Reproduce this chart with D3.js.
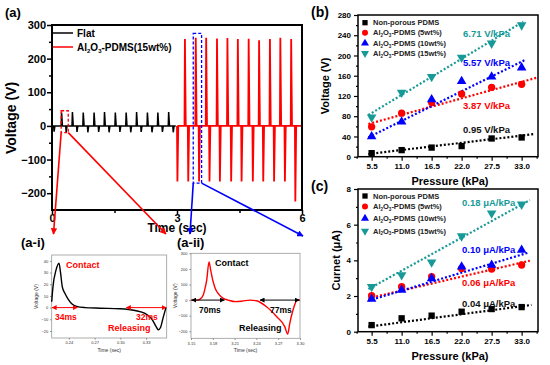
<!DOCTYPE html>
<html>
<head>
<meta charset="utf-8">
<style>
body { margin: 0; background: #fff; }
svg { font-family: "Liberation Sans", Arial, sans-serif; font-weight: bold; }
</style>
</head>
<body>
<div id="chart"></div>
<script src="https://d3js.org/d3.v7.min.js"></script>
<script>
// ---- (a) main trace: spike times (sec) and spike values (V) ----
var flatPeakTimes = [0.23, 0.49, 0.75, 1.01, 1.26, 1.52, 1.78, 2.03, 2.29, 2.54, 2.80];
var flatPeakValues = [40, 41, 40, 40, 41, 40, 40, 41, 40, 40, 41];
var flatDipTimes = [0.05, 0.34, 0.60, 0.86, 1.12, 1.37, 1.63, 1.89, 2.14, 2.40, 2.65, 2.91];
var flatDipValues = [-17, -19, -18, -19, -18, -19, -18, -19, -18, -19, -18, -19];
var poroPeakTimes = [3.19, 3.45, 3.70, 3.96, 4.21, 4.46, 4.72, 4.97, 5.23, 5.48, 5.74];
var poroPeakValues = [258, 262, 262, 260, 261, 258, 259, 255, 258, 262, 258];
var poroDipTimes = [3.01, 3.27, 3.53, 3.78, 4.03, 4.30, 4.55, 4.82, 5.07, 5.33, 5.59, 5.84];
var poroDipValues = [-165, -165, -165, -165, -165, -165, -165, -165, -165, -165, -165, -225];

// ---- (a-i) zoomed Flat trace ----
var flatZoomTime = [0.2200, 0.2215, 0.2250, 0.2285, 0.2303, 0.2323, 0.2355, 0.2393, 0.2437, 0.2490, 0.2588, 0.2763, 0.2996, 0.3171, 0.3287, 0.3369, 0.3415, 0.3442, 0.3468, 0.3497, 0.3531];
var flatZoomVolt = [5, 18, 32, 38, 30, 18, 12, 7, 3, 1, 0, -0.5, -1, -2.5, -5, -10, -16, -19, -17, -9, 0];

// ---- (a-ii) zoomed Al2O3-PDMS trace ----
var poroZoomTime = [3.150, 3.158, 3.1624, 3.1669, 3.1693, 3.1716, 3.1748, 3.1771, 3.1799, 3.1834, 3.1881, 3.1944, 3.2013, 3.211, 3.220, 3.231, 3.240, 3.254, 3.268, 3.279, 3.283, 3.286, 3.292, 3.296, 3.300];
var poroZoomVolt = [0, 0, 6, 32, 75, 128, 245, 192, 128, 75, 38, 11, 0, -10, -7, 0, -4, -43, -107, -170, -218, -148, -40, 0, 0];

// ---- (b), (c) ----
var pressure = [5.5, 11.0, 16.5, 22.0, 27.5, 33.0];
var seriesNames = ["Non-porous PDMS", "5wt%", "10wt%", "15wt%"];
var voltNonPorous = [7, 13, 18, 21, 36, 38];
var volt5wt = [59, 86, 107, 124, 137, 143];
var volt10wt = [40, 69, 113, 149, 158, 176];
var volt15wt = [78, 127, 158, 196, 224, 260];
var currNonPorous = [0.37, 0.75, 0.9, 1.12, 1.27, 1.38];
var curr5wt = [2.02, 2.52, 3.08, 3.55, 3.51, 3.74];
var curr10wt = [1.83, 2.34, 2.99, 3.64, 3.74, 4.58];
var curr15wt = [2.52, 3.18, 3.89, 5.36, 6.64, 7.14];
// dotted fit lines: [start, end] pressure and value
var fitPressureB = [[4.9, 35.4], [4.9, 36.0], [4.9, 33.6], [4.9, 33.3]];
var fitVoltB = [[5.3, 44.8], [64.6, 156.8], [38.2, 191], [82.4, 266.9]];
var fitPressureC = [[4.9, 34.8], [4.9, 34.5], [4.9, 34.2], [4.9, 34.5]];
var fitCurrC = [[0.28, 1.5], [1.87, 3.98], [1.74, 4.43], [2.39, 7.38]];
var slopeB = ["0.95 V/kPa", "3.87 V/kPa", "5.57 V/kPa", "6.71 V/kPa"];
var slopeC = ["0.04 μA/kPa", "0.06 μA/kPa", "0.10 μA/kPa", "0.18 μA/kPa"];

var RED = "#ff0000", BLUE = "#0000ff", TEAL = "#179a97";
var colors = ["#000000", RED, BLUE, TEAL];
var shapes = [d3.symbolSquare, d3.symbolCircle, d3.symbolTriangle, d3.symbolTriangle];

var svg = d3.select("#chart").append("svg")
    .attr("width", 550).attr("height", 365);
svg.append("rect").attr("width", 550).attr("height", 365).attr("fill", "#fff");

var defs = svg.append("defs");
[["arRed", RED, 4], ["arBlue", BLUE, 4], ["arRed2", RED, 5], ["arBlack", "#000", 5]].forEach(function(m) {
    defs.append("marker").attr("id", m[0])
        .attr("viewBox", "0 0 10 10").attr("refX", 9).attr("refY", 5)
        .attr("markerWidth", m[2]).attr("markerHeight", m[2])
        .attr("markerUnits", "strokeWidth")
        .attr("orient", "auto-start-reverse")
        .append("path").attr("d", "M0,0L10,5L0,10Z").attr("fill", m[1]);
});

// ================= (a) =================
var xa = d3.scaleLinear([0, 6], [52, 302]);
var ya = d3.scaleLinear([-250, 300], [210, 25]);

function spikes(peakT, peakV, dipT, dipV, t0, t1) {
    var ev = peakT.map(function(t, i) { return [t, peakV[i]]; })
        .concat(dipT.map(function(t, i) { return [t, dipV[i]]; }))
        .sort(function(a, b) { return a[0] - b[0]; });
    var pts = [[t0, 0]];
    ev.forEach(function(e) {
        pts.push([Math.max(t0, e[0] - 0.01), 0], [e[0], e[1]], [e[0] + 0.02, 0]);
    });
    pts.push([t1, 0]);
    return pts;
}
var lineA = d3.line().x(function(d) { return xa(d[0]); }).y(function(d) { return ya(d[1]); });

var ga = svg.append("g");
ga.append("path").datum(spikes(flatPeakTimes, flatPeakValues, flatDipTimes, flatDipValues, 0.02, 2.97))
    .attr("d", lineA).attr("fill", "none").attr("stroke", "#000").attr("stroke-width", 1.5);
ga.append("path").datum(spikes(poroPeakTimes, poroPeakValues, poroDipTimes, poroDipValues, 3.0, 5.99))
    .attr("d", lineA).attr("fill", "none").attr("stroke", RED).attr("stroke-width", 1.8);

// axes
ga.append("g").attr("transform", "translate(52,0)")
    .call(d3.axisLeft(ya).tickValues([-200, -100, 0, 100, 200, 300]).tickSize(5).tickSizeOuter(0).tickPadding(1));
ga.append("g").attr("transform", "translate(52,0)")
    .call(d3.axisLeft(ya).tickValues([-150, -50, 50, 150, 250]).tickSize(3).tickFormat("").tickSizeOuter(0));
ga.append("g").attr("transform", "translate(0,210)")
    .call(d3.axisBottom(xa).tickValues([0, 3, 6]).tickSize(4).tickSizeOuter(0).tickPadding(0).tickFormat(d3.format("d")));
ga.append("g").attr("transform", "translate(0,210)")
    .call(d3.axisBottom(xa).tickValues([1.5, 4.5]).tickSize(3).tickFormat("").tickSizeOuter(0));
ga.selectAll(".domain").remove();
ga.selectAll(".tick line").attr("stroke-width", 1.5);
ga.selectAll(".tick text").attr("font-size", 11).attr("font-weight", "bold").attr("fill", "#000");
ga.append("rect").attr("x", 52).attr("y", 25).attr("width", 250).attr("height", 185)
    .attr("fill", "none").attr("stroke", "#000").attr("stroke-width", 2);

ga.append("text").attr("transform", "translate(16,118) rotate(-90)").attr("text-anchor", "middle")
    .attr("font-size", 14).text("Voltage (V)");
ga.append("text").attr("x", 177).attr("y", 232).attr("text-anchor", "middle")
    .attr("font-size", 12).text("Time (sec)");
svg.append("text").attr("x", 5).attr("y", 17).attr("font-size", 13).text("(a)");

// legend
ga.append("line").attr("x1", 53).attr("x2", 73).attr("y1", 33).attr("y2", 33).attr("stroke", "#000").attr("stroke-width", 1.5);
ga.append("line").attr("x1", 53).attr("x2", 73).attr("y1", 47).attr("y2", 47).attr("stroke", RED).attr("stroke-width", 1.5);
ga.append("text").attr("x", 77).attr("y", 37).attr("font-size", 10).text("Flat");
var lg = ga.append("text").attr("x", 77).attr("y", 51).attr("font-size", 10);
lg.append("tspan").text("Al");
lg.append("tspan").attr("font-size", 6).attr("dy", 2).text("2");
lg.append("tspan").attr("dy", -2).text("O");
lg.append("tspan").attr("font-size", 6).attr("dy", 2).text("3");
lg.append("tspan").attr("dy", -2).text("-PDMS(15wt%)");

// zoom boxes + connectors
ga.append("rect").attr("x", xa(0.22)).attr("y", ya(45)).attr("width", xa(0.39) - xa(0.22)).attr("height", ya(-20) - ya(45))
    .attr("fill", "none").attr("stroke", RED).attr("stroke-width", 1.3).attr("stroke-dasharray", "3,2");
ga.append("rect").attr("x", xa(3.39)).attr("y", ya(275)).attr("width", xa(3.59) - xa(3.39)).attr("height", ya(-170) - ya(275))
    .attr("fill", "none").attr("stroke", BLUE).attr("stroke-width", 1.3).attr("stroke-dasharray", "3,2");
[[xa(0.22), ya(-20), 53.5, 234, RED, "arRed"], [xa(0.39), ya(-20), 166, 234, RED, "arRed"],
 [xa(3.39), ya(-170), 190, 234, BLUE, "arBlue"], [xa(3.59), ya(-170), 303, 236, BLUE, "arBlue"]].forEach(function(c) {
    ga.append("line").attr("x1", c[0]).attr("y1", c[1]).attr("x2", c[2]).attr("y2", c[3])
        .attr("stroke", c[4]).attr("stroke-width", 1.6).attr("marker-end", "url(#" + c[5] + ")");
});

// ================= insets =================
function inset(opt) {
    var g = svg.append("g");
    var xs = d3.scaleLinear(opt.xd, opt.xr), ys = d3.scaleLinear(opt.yd, opt.yr);
    g.append("g").attr("transform", "translate(" + opt.xr[0] + ",0)")
        .call(d3.axisLeft(ys).tickValues(opt.yt).tickSize(1.5).tickSizeOuter(0).tickPadding(2));
    g.append("g").attr("transform", "translate(0," + opt.yr[0] + ")")
        .call(d3.axisBottom(xs).tickValues(opt.xt).tickSize(1.5).tickSizeOuter(0).tickPadding(2).tickFormat(d3.format(".2f")));
    g.selectAll(".domain").remove();
    g.selectAll(".tick line").attr("stroke", "#777");
    g.selectAll(".tick text").attr("font-size", 4).attr("font-weight", "normal").attr("fill", "#333");
    g.append("rect").attr("x", opt.xr[0]).attr("y", opt.yr[1]).attr("width", opt.xr[1] - opt.xr[0]).attr("height", opt.yr[0] - opt.yr[1])
        .attr("fill", "none").attr("stroke", "#999").attr("stroke-width", 0.8);
    g.append("text").attr("transform", "translate(" + (opt.xr[0] - 14) + "," + (opt.yr[0] + opt.yr[1]) / 2 + ") rotate(-90)")
        .attr("text-anchor", "middle").attr("font-size", 5).attr("font-weight", "normal").attr("fill", "#333").text("Voltage (V)");
    g.append("text").attr("x", (opt.xr[0] + opt.xr[1]) / 2).attr("y", opt.yr[0] + 14).attr("text-anchor", "middle")
        .attr("font-size", 5).attr("font-weight", "normal").attr("fill", "#333").text("Time (sec)");
    var pts = opt.t.map(function(t, i) { return [t, opt.v[i]]; });
    g.append("path").datum(pts).attr("fill", "none").attr("stroke", opt.color).attr("stroke-width", 1.4)
        .attr("d", d3.line().curve(d3.curveMonotoneX).x(function(d) { return xs(d[0]); }).y(function(d) { return ys(d[1]); }));
    opt.arrows.forEach(function(a) {
        g.append("line").attr("x1", xs(a[0])).attr("x2", xs(a[1])).attr("y1", ys(0)).attr("y2", ys(0))
            .attr("stroke", opt.ann).attr("stroke-width", 1)
            .attr("marker-start", "url(#" + opt.marker + ")").attr("marker-end", "url(#" + opt.marker + ")");
    });
    opt.labels.forEach(function(l) {
        g.append("text").attr("x", l[0]).attr("y", l[1]).attr("font-size", l[3]).attr("fill", opt.ann).text(l[2]);
    });
}
inset({
    xd: [0.22, 0.354], xr: [51.7, 166.7], yd: [-26, 45], yr: [338, 255],
    xt: [0.24, 0.27, 0.30, 0.33], yt: [-20, -10, 0, 10, 20, 30, 40],
    t: flatZoomTime, v: flatZoomVolt, color: "#000", ann: RED, marker: "arRed2",
    arrows: [[0.2205, 0.250], [0.307, 0.3535]],
    labels: [[66, 268, "Contact", 9], [55, 320, "34ms", 8.5], [136, 320, "32ms", 8.5], [108, 331, "Releasing", 9]]
});
inset({
    xd: [3.15, 3.30], xr: [191, 300], yd: [-245, 300], yr: [338.3, 253.3],
    xt: [3.15, 3.18, 3.21, 3.24, 3.27, 3.30], yt: [-200, -100, 0, 100, 200, 300],
    t: poroZoomTime, v: poroZoomVolt, color: RED, ann: "#000", marker: "arBlack",
    arrows: [[3.151, 3.196], [3.245, 3.299]],
    labels: [[215, 266, "Contact", 9], [199, 313, "70ms", 8.5], [270, 313, "77ms", 8.5], [239, 331, "Releasing", 9]]
});
svg.append("text").attr("x", 21).attr("y", 247).attr("font-size", 13).text("(a-i)");
svg.append("text").attr("x", 177).attr("y", 247).attr("font-size", 13).text("(a-ii)");

// ================= (b) and (c) =================
function scatterPanel(opt) {
    var g = svg.append("g");
    var x = d3.scaleLinear([3, 36], [358, 538]);
    var y = d3.scaleLinear(opt.yd, opt.yr);
    g.append("g").attr("transform", "translate(358,0)")
        .call(d3.axisLeft(y).tickValues(opt.yt).tickSize(4).tickSizeOuter(0).tickPadding(3));
    g.append("g").attr("transform", "translate(358,0)")
        .call(d3.axisLeft(y).tickValues(opt.ym).tickSize(2).tickFormat("").tickSizeOuter(0));
    g.append("g").attr("transform", "translate(0," + opt.yr[0] + ")")
        .call(d3.axisBottom(x).tickValues(pressure).tickSize(4).tickSizeOuter(0).tickPadding(3).tickFormat(d3.format(".1f")));
    g.append("g").attr("transform", "translate(0," + opt.yr[0] + ")")
        .call(d3.axisBottom(x).tickValues(pressure.map(function(p) { return p - 2.75; }).concat([35.75])).tickSize(2).tickFormat("").tickSizeOuter(0));
    g.selectAll(".domain").remove();
    g.selectAll(".tick line").attr("stroke-width", 1.2);
    g.selectAll(".tick text").attr("font-size", 8).attr("font-weight", "bold").attr("fill", "#000");
    g.append("rect").attr("x", 358).attr("y", opt.yr[1]).attr("width", 180).attr("height", opt.yr[0] - opt.yr[1])
        .attr("fill", "none").attr("stroke", "#000").attr("stroke-width", 1.5);

    opt.fitX.forEach(function(fx, i) {
        g.append("line").attr("x1", x(fx[0])).attr("x2", x(fx[1])).attr("y1", y(opt.fitY[i][0])).attr("y2", y(opt.fitY[i][1]))
            .attr("stroke", colors[i]).attr("stroke-width", 2.2).attr("stroke-dasharray", "2,2");
    });
    opt.series.forEach(function(vals, i) {
        var sym = d3.symbol().type(shapes[i]).size(i == 1 ? 42 : 40);
        g.selectAll(null).data(vals).enter().append("path")
            .attr("d", sym)
            .attr("transform", function(d, j) {
                return "translate(" + x(pressure[j]) + "," + y(d) + ")" + (i == 3 ? " rotate(180)" : "");
            })
            .attr("fill", colors[i]);
    });
    // legend
    opt.legendY.forEach(function(ly, i) {
        g.append("path").attr("d", d3.symbol().type(shapes[i]).size(28))
            .attr("transform", "translate(365," + ly + ")" + (i == 3 ? " rotate(180)" : "")).attr("fill", colors[i]);
        var t = g.append("text").attr("x", 373).attr("y", ly + 2.7).attr("font-size", 7.5).attr("fill", "#222");
        if (i == 0) { t.text(seriesNames[0]); return; }
        t.append("tspan").text("Al");
        t.append("tspan").attr("font-size", 4.5).attr("dy", 1.5).text("2");
        t.append("tspan").attr("dy", -1.5).text("O");
        t.append("tspan").attr("font-size", 4.5).attr("dy", 1.5).text("3");
        t.append("tspan").attr("dy", -1.5).text("-PDMS (" + seriesNames[i] + ")");
    });
    opt.notes.forEach(function(n, i) {
        g.append("text").attr("x", n[0]).attr("y", n[1]).attr("font-size", 9.5).attr("fill", i == 0 ? "#111" : colors[i]).text(opt.slopes[i]);
    });
    g.append("text").attr("transform", "translate(" + opt.ylabX + "," + (opt.yr[0] + opt.yr[1]) / 2 + ") rotate(-90)")
        .attr("text-anchor", "middle").attr("font-size", 11).text(opt.ylab);
    g.append("text").attr("x", 450).attr("y", opt.yr[0] + 28).attr("text-anchor", "middle").attr("font-size", 11).text("Pressure (kPa)");
    svg.append("text").attr("x", 311).attr("y", opt.yr[1] + 2).attr("font-size", 14).text(opt.tag);
}
scatterPanel({
    yd: [0, 280], yr: [156.7, 15], yt: d3.range(0, 281, 40), ym: d3.range(20, 280, 40),
    series: [voltNonPorous, volt5wt, volt10wt, volt15wt],
    fitX: fitPressureB, fitY: fitVoltB, slopes: slopeB,
    legendY: [22.7, 32.7, 43.3, 53.3],
    notes: [[463, 133], [463, 109], [463, 66], [463, 37]],
    ylab: "Voltage (V)", ylabX: 329, tag: "(b)"
});
scatterPanel({
    yd: [0, 8], yr: [331.7, 189], yt: [0, 2, 4, 6, 8], ym: [1, 3, 5, 7],
    series: [currNonPorous, curr5wt, curr10wt, curr15wt],
    fitX: fitPressureC, fitY: fitCurrC, slopes: slopeC,
    legendY: [196, 206.5, 218.5, 231],
    notes: [[462, 307], [462, 286], [462, 253], [462, 206]],
    ylab: "Curnet (μA)", ylabX: 340, tag: "(c)"
});
</script>
</body>
</html>
